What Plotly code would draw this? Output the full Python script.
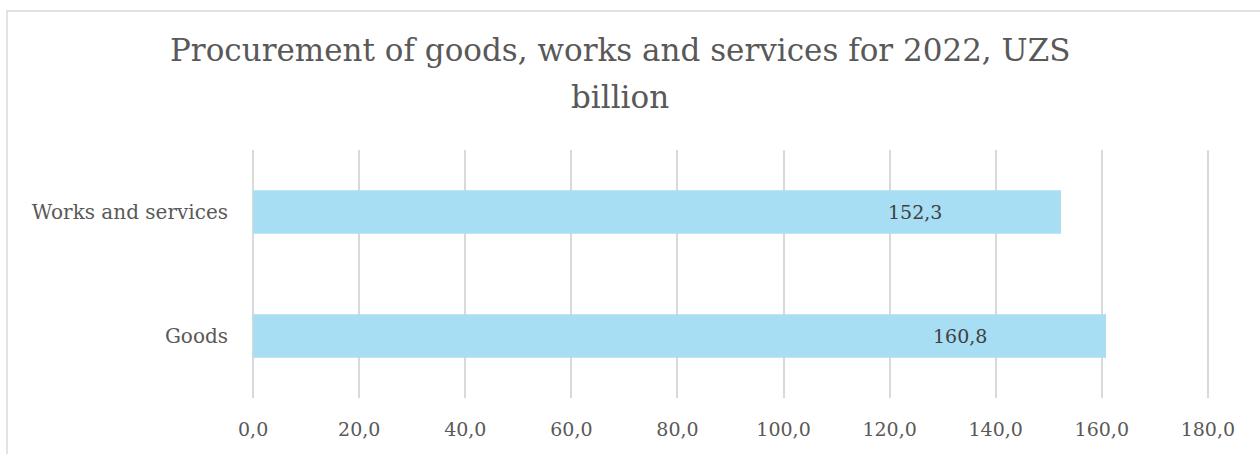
import plotly.graph_objects as go

categories = ["Goods", "Works and services"]
values = [160.8, 152.3]
value_labels = ["160,8", "152,3"]
tick_vals = [0, 20, 40, 60, 80, 100, 120, 140, 160, 180]
tick_text = ["0,0", "20,0", "40,0", "60,0", "80,0", "100,0", "120,0", "140,0", "160,0", "180,0"]
title_lines = ["Procurement of goods, works and services for 2022, UZS", "billion"]

FONT = "DejaVu Serif"
GRAY = "#595959"

W, H = 1260, 454
L, R, T, B = 251, 50, 150, 56
pw, ph = W - L - R, H - T - B

fig = go.Figure()
fig.add_trace(go.Bar(
    y=categories, x=values, orientation="h",
    marker=dict(color="#A7DEF3", line=dict(width=0)),
    width=0.35, hoverinfo="skip",
))
for c, v, t in zip(categories, values, value_labels):
    fig.add_annotation(x=v, y=c, text=t, showarrow=False, xanchor="center",
                       xshift=-146, font=dict(family=FONT, size=19, color="#404040"))

# title (two lines)
for line, yc in zip(title_lines, [50, 97]):
    fig.add_annotation(xref="paper", yref="paper", x=(620 - L) / pw, y=(T + ph - yc) / ph,
                       xanchor="center", yanchor="middle", showarrow=False, text=line,
                       font=dict(family=FONT, size=31, color=GRAY))

# outer chart border
fig.add_shape(type="rect", xref="paper", yref="paper",
              x0=(7 - L) / pw, x1=(W + 5 - L) / pw,
              y0=-(H + 5 - (T + ph)) / ph, y1=(T + ph - 11) / ph,
              line=dict(color="#d9d9d9", width=1.5), layer="below")

fig.update_layout(
    width=W, height=H,
    margin=dict(l=L, r=R, t=T, b=B, autoexpand=False),
    paper_bgcolor="white", plot_bgcolor="white",
    showlegend=False,
    xaxis=dict(range=[-0.4, 180.4], tickvals=tick_vals, ticktext=tick_text,
               showgrid=True, gridcolor="#d9d9d9", gridwidth=1.5, zeroline=False,
               showline=False, ticks="", ticklabelstandoff=18, automargin=False,
               tickfont=dict(family=FONT, size=19, color=GRAY), fixedrange=True),
    yaxis=dict(showgrid=False, zeroline=False, showline=False, ticks="",
               ticklabelstandoff=22, range=[-0.5, 1.5], automargin=False,
               tickfont=dict(family=FONT, size=20, color=GRAY), fixedrange=True),
)

fig.write_html("out.html", config={"displayModeBar": False},
               post_script="document.body.style.margin='0px';document.body.style.overflow='hidden';")
